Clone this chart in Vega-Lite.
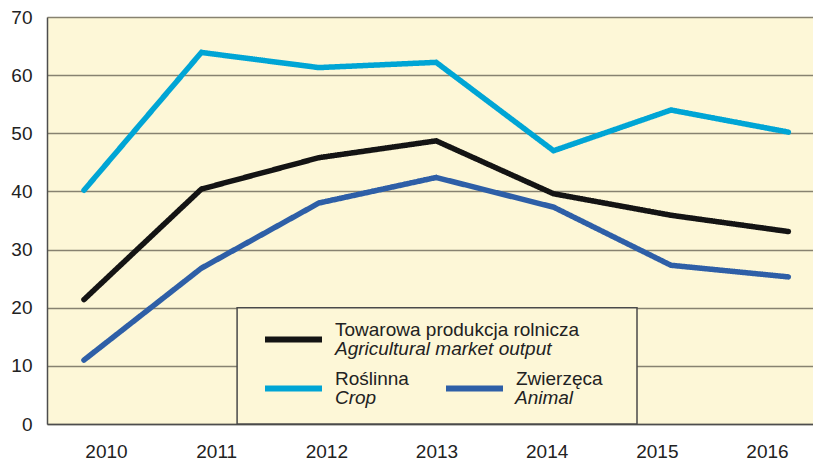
{
  "$schema": "https://vega.github.io/schema/vega-lite/v6.json",
  "width": 766,
  "height": 407,
  "autosize": {"type": "none"},
  "padding": {"left": 47, "top": 17, "right": 0, "bottom": 36},
  "background": "#ffffff",
  "config": {
    "view": {"fill": "#fdf7d7", "stroke": null},
    "font": "Liberation Sans",
    "axisY": {
      "grid": true, "gridColor": "#878270", "gridWidth": 1.3,
      "domain": true, "domainColor": "#4d4d4d", "domainWidth": 1.5,
      "ticks": false, "tickSize": 0,
      "labelFont": "Liberation Sans", "labelFontSize": 19, "labelColor": "#222222",
      "labelPadding": 15, "labelFlush": false, "labelOverlap": false
    },
    "axisX": {
      "grid": false,
      "domain": true, "domainColor": "#4d4d4d", "domainWidth": 1.5,
      "ticks": false, "tickSize": 0,
      "labelFont": "Liberation Sans", "labelFontSize": 19, "labelColor": "#222222",
      "labelPadding": 18, "labelFlush": false, "labelOverlap": false
    }
  },
  "layer": [
    {
      "data": {"values": [{"box": "legend"}]},
      "mark": {"type": "rect", "fill": "#fdf7d7", "stroke": "#4a4a4a", "strokeWidth": 1.5},
      "encoding": {
        "x": {"datum": 2011.19, "type": "quantitative",
          "scale": {"domain": [2009.4645, 2016.4175], "nice": false, "zero": false},
          "axis": {"title": null, "orient": "bottom", "values": [2010, 2011, 2012, 2013, 2014, 2015, 2016], "format": "d"}},
        "x2": {"datum": 2014.82},
        "y": {"datum": 0, "type": "quantitative", "scale": {"domain": [0, 70], "nice": false},
          "axis": {"title": null, "values": [0, 10, 20, 30, 40, 50, 60, 70]}},
        "y2": {"datum": 20}
      }
    },
    {
      "data": {"values": [
        {"year": 2010, "series": "Towarowa produkcja rolnicza", "en": "Agricultural market output", "value": 21.4},
        {"year": 2011, "series": "Towarowa produkcja rolnicza", "en": "Agricultural market output", "value": 40.4},
        {"year": 2012, "series": "Towarowa produkcja rolnicza", "en": "Agricultural market output", "value": 45.8},
        {"year": 2013, "series": "Towarowa produkcja rolnicza", "en": "Agricultural market output", "value": 48.7},
        {"year": 2014, "series": "Towarowa produkcja rolnicza", "en": "Agricultural market output", "value": 39.6},
        {"year": 2015, "series": "Towarowa produkcja rolnicza", "en": "Agricultural market output", "value": 35.9},
        {"year": 2016, "series": "Towarowa produkcja rolnicza", "en": "Agricultural market output", "value": 33.1},
        {"year": 2010, "series": "Roślinna", "en": "Crop", "value": 40.2},
        {"year": 2011, "series": "Roślinna", "en": "Crop", "value": 63.9},
        {"year": 2012, "series": "Roślinna", "en": "Crop", "value": 61.3},
        {"year": 2013, "series": "Roślinna", "en": "Crop", "value": 62.2},
        {"year": 2014, "series": "Roślinna", "en": "Crop", "value": 47.0},
        {"year": 2015, "series": "Roślinna", "en": "Crop", "value": 54.0},
        {"year": 2016, "series": "Roślinna", "en": "Crop", "value": 50.2},
        {"year": 2010, "series": "Zwierzęca", "en": "Animal", "value": 11.0},
        {"year": 2011, "series": "Zwierzęca", "en": "Animal", "value": 26.8},
        {"year": 2012, "series": "Zwierzęca", "en": "Animal", "value": 38.0},
        {"year": 2013, "series": "Zwierzęca", "en": "Animal", "value": 42.4},
        {"year": 2014, "series": "Zwierzęca", "en": "Animal", "value": 37.3},
        {"year": 2015, "series": "Zwierzęca", "en": "Animal", "value": 27.3},
        {"year": 2016, "series": "Zwierzęca", "en": "Animal", "value": 25.3}
      ]},
      "mark": {"type": "line", "strokeWidth": 5.5, "strokeCap": "round", "strokeJoin": "miter"},
      "encoding": {
        "x": {"field": "year", "type": "quantitative",
          "scale": {"domain": [2009.685, 2016.21], "nice": false, "zero": false},
          "axis": null},
        "y": {"field": "value", "type": "quantitative", "scale": {"domain": [0, 70], "nice": false},
          "axis": {"title": null, "values": [0, 10, 20, 30, 40, 50, 60, 70]}},
        "color": {
          "field": "series", "type": "nominal",
          "scale": {"domain": ["Towarowa produkcja rolnicza", " ", "Roślinna", "Zwierzęca"],
                    "range": ["#141414", "rgba(0,0,0,0)", "#00a5d5", "#2e5fa7"]},
          "legend": {
            "orient": "none", "legendX": 215, "legendY": 298, "title": null,
            "direction": "horizontal", "columns": 2, "gridAlign": "none", "padding": 0,
            "symbolType": "stroke", "symbolSize": 3249, "symbolStrokeWidth": 6,
            "labelFont": "Liberation Sans", "labelFontSize": 19, "labelColor": "#222222",
            "labelBaseline": "bottom", "labelOffset": 10, "labelLimit": 400,
            "clipHeight": 49, "rowPadding": 0, "columnPadding": -136
          }
        },
        "strokeDash": {
          "field": "en", "type": "nominal",
          "scale": {"domain": ["Agricultural market output", " ", "Crop", "Animal"],
                    "range": [[1, 0], [1, 0], [1, 0], [1, 0]]},
          "legend": {
            "orient": "none", "legendX": 215, "legendY": 298, "title": null,
            "direction": "horizontal", "columns": 2, "gridAlign": "none", "padding": 0,
            "symbolType": "stroke", "symbolSize": 3249, "symbolStrokeWidth": 6, "symbolOpacity": 0,
            "labelFont": "Liberation Sans", "labelFontSize": 19, "labelFontStyle": "italic", "labelColor": "#222222",
            "labelBaseline": "top", "labelOffset": 10, "labelLimit": 400,
            "clipHeight": 49, "rowPadding": 0, "columnPadding": -110
          }
        }
      }
    }
  ],
  "resolve": {"scale": {"x": "independent"}, "axis": {"x": "independent"}}
}
